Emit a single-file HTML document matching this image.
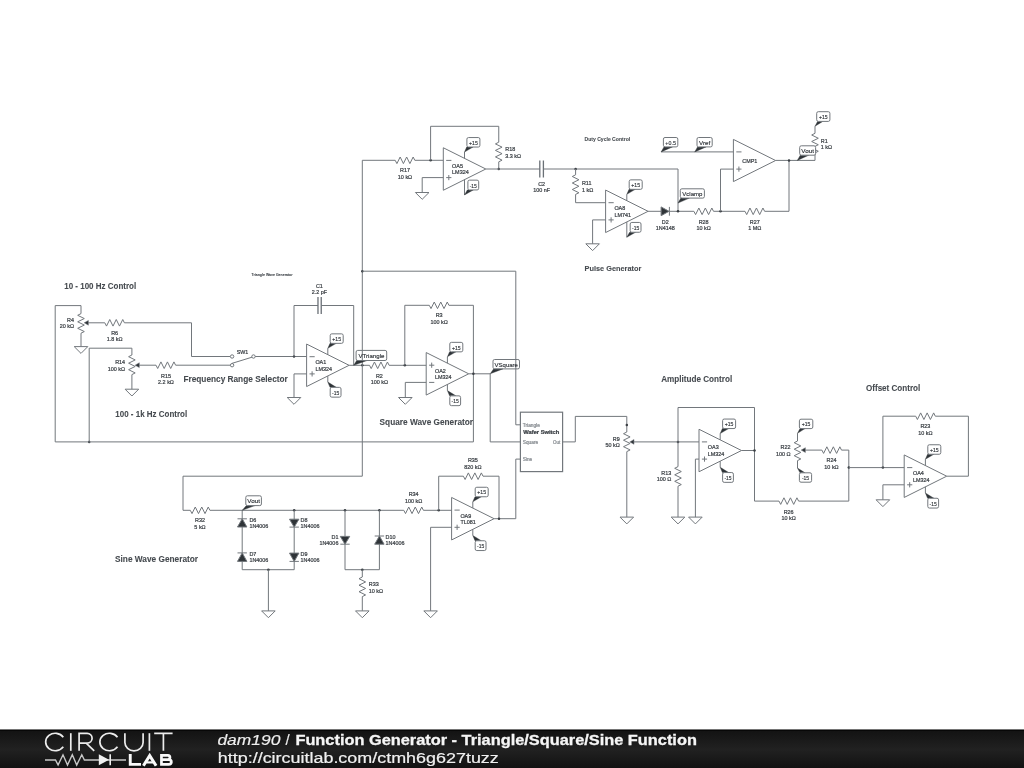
<!DOCTYPE html>
<html><head><meta charset="utf-8"><title>Function Generator - Triangle/Square/Sine Function</title>
<style>
html,body{margin:0;padding:0;background:#fff;width:1024px;height:768px;overflow:hidden}
svg{display:block;font-family:"Liberation Sans",sans-serif;will-change:transform}
</style></head><body>
<svg width="1024" height="768" viewBox="0 0 1024 768">
<rect x="0" y="0" width="1024" height="768" fill="#fff"/>
<g fill="none" stroke="#72777c" stroke-width="1.0" stroke-linejoin="miter">
<path d="M55.2,441.9 L55.2,305.6 L81,305.6 L81,313.6"/>
<path d="M81,313.6 L77.7,315.3 L84.3,318.55 L77.7,321.8 L84.3,325.05 L77.7,328.3 L84.3,331.55 L81,333.2"/>
<path d="M81,333.2 L81,346.6"/>
<path d="M74.2,346.6 L87.8,346.6 L81,353.4 Z"/>
<text transform="translate(74,321.5) scale(0.890,1)" font-size="6.1" text-anchor="end" font-weight="normal" fill="#3c4146" stroke="#3c4146" stroke-width="0.24">R4</text>
<text transform="translate(74,328) scale(0.890,1)" font-size="6.1" text-anchor="end" font-weight="normal" fill="#3c4146" stroke="#3c4146" stroke-width="0.24">20 kΩ</text>
<path d="M84.2,322.8 L88.4,320.4 L88.4,325.2 Z" fill="#2f3438" stroke-width="0.5"/>
<path d="M88,322.8 L104.8,322.8"/>
<path d="M104.8,322.8 L106.5,326.1 L109.75,319.5 L113,326.1 L116.25,319.5 L119.5,326.1 L122.75,319.5 L124.4,322.8"/>
<text transform="translate(114.6,334.9) scale(0.890,1)" font-size="6.1" text-anchor="middle" font-weight="normal" fill="#3c4146" stroke="#3c4146" stroke-width="0.24">R6</text>
<text transform="translate(114.6,341.2) scale(0.890,1)" font-size="6.1" text-anchor="middle" font-weight="normal" fill="#3c4146" stroke="#3c4146" stroke-width="0.24">1.8 kΩ</text>
<path d="M124.4,322.8 L191.5,322.8 L191.5,356.5 L230.2,356.5"/>
<path d="M89.2,441.9 L89.2,348.2 L131.9,348.2 L131.9,355"/>
<path d="M131.9,355 L128.6,356.7 L135.2,359.95 L128.6,363.2 L135.2,366.45 L128.6,369.7 L135.2,372.95 L131.9,374.6"/>
<path d="M131.9,374.6 L131.9,389.2"/>
<path d="M125.1,389.2 L138.7,389.2 L131.9,396 Z"/>
<text transform="translate(125.1,364.4) scale(0.890,1)" font-size="6.1" text-anchor="end" font-weight="normal" fill="#3c4146" stroke="#3c4146" stroke-width="0.24">R14</text>
<text transform="translate(125.1,370.7) scale(0.890,1)" font-size="6.1" text-anchor="end" font-weight="normal" fill="#3c4146" stroke="#3c4146" stroke-width="0.24">100 kΩ</text>
<path d="M135.1,365.2 L139.3,362.8 L139.3,367.6 Z" fill="#2f3438" stroke-width="0.5"/>
<path d="M139,365.2 L156,365.2"/>
<path d="M156,365.2 L157.7,368.5 L160.95,361.9 L164.2,368.5 L167.45,361.9 L170.7,368.5 L173.95,361.9 L175.6,365.2"/>
<text transform="translate(166,377.5) scale(0.890,1)" font-size="6.1" text-anchor="middle" font-weight="normal" fill="#3c4146" stroke="#3c4146" stroke-width="0.24">R15</text>
<text transform="translate(166,383.7) scale(0.890,1)" font-size="6.1" text-anchor="middle" font-weight="normal" fill="#3c4146" stroke="#3c4146" stroke-width="0.24">2.2 kΩ</text>
<path d="M175.6,365.2 L230.2,365.2"/>
<circle cx="89.2" cy="441.9" r="1.25" fill="#3a3f44" stroke="none"/>
<circle cx="232.1" cy="356.5" r="1.7" fill="#fff"/>
<circle cx="232.1" cy="365.2" r="1.7" fill="#fff"/>
<circle cx="253.5" cy="356.5" r="1.7" fill="#fff"/>
<path d="M231.9,363.4 L252,357.2"/>
<text transform="translate(242.4,353.6) scale(0.890,1)" font-size="6" text-anchor="middle" font-weight="normal" fill="#3c4146" stroke="#3c4146" stroke-width="0.24">SW1</text>
<path d="M255.2,356.5 L306.6,356.5"/>
<circle cx="294" cy="356.5" r="1.25" fill="#3a3f44" stroke="none"/>
<path d="M294,356.5 L294,305.5 L318,305.5"/>
<path d="M317.98,296.9 V314.1 M321.23,296.9 V314.1" stroke-width="1.3" stroke="#6a7076"/>
<path d="M321.25,305.5 L353.7,305.5 L353.7,365.3"/>
<text transform="translate(319.4,287.6) scale(0.890,1)" font-size="6.1" text-anchor="middle" font-weight="normal" fill="#3c4146" stroke="#3c4146" stroke-width="0.24">C1</text>
<text transform="translate(319.4,293.8) scale(0.890,1)" font-size="6.1" text-anchor="middle" font-weight="normal" fill="#3c4146" stroke="#3c4146" stroke-width="0.24">2.2 pF</text>
<path d="M306.6,344.05 L349.1,365.3 L306.6,386.55 Z"/>
<path d="M309.5,356.7 H314.7" stroke-width="1"/>
<path d="M309.5,373.9 H314.7 M312.1,371.3 V376.5" stroke-width="1"/>
<text transform="translate(315.4,364.1) scale(0.890,1)" font-size="6.1" text-anchor="start" font-weight="normal" fill="#3c4146" stroke="#3c4146" stroke-width="0.24">OA1</text>
<text transform="translate(315.4,370.6) scale(0.890,1)" font-size="6.1" text-anchor="start" font-weight="normal" fill="#3c4146" stroke="#3c4146" stroke-width="0.24">LM324</text>
<path d="M327.8,354.65 L327.8,348.35"/>
<path d="M327.8,348.35 L330,343.35 L336.3,343.35 Z" fill="#2f3438" stroke="#2f3438" stroke-width="0.4"/>
<rect x="330.2" y="333.85" width="13" height="9.5" rx="1.6" fill="#fff"/>
<text transform="translate(336.7,341.05) scale(0.839,1)" font-size="6.1" text-anchor="middle" font-weight="normal" fill="#2e3338" stroke="#2e3338" stroke-width="0.15">+15</text>
<path d="M327.8,375.95 L327.8,382.05"/>
<path d="M327.8,382.05 L330,387.35 L336.3,387.35 Z" fill="#2f3438" stroke="#2f3438" stroke-width="0.4"/>
<rect x="330.2" y="387.35" width="10.8" height="9.8" rx="1.6" fill="#fff"/>
<text transform="translate(335.6,394.85) scale(0.814,1)" font-size="6.1" text-anchor="middle" font-weight="normal" fill="#2e3338" stroke="#2e3338" stroke-width="0.15">-15</text>
<path d="M306.6,373.9 L294,373.9 L294,397.5"/>
<path d="M287.2,397.5 L300.8,397.5 L294,404.3 Z"/>
<path d="M349.1,365.3 L369.5,365.3"/>
<path d="M369.5,365.3 L371.2,368.6 L374.45,362 L377.7,368.6 L380.95,362 L384.2,368.6 L387.45,362 L389.1,365.3"/>
<text transform="translate(379.4,377.6) scale(0.890,1)" font-size="6.1" text-anchor="middle" font-weight="normal" fill="#3c4146" stroke="#3c4146" stroke-width="0.24">R2</text>
<text transform="translate(379.4,383.8) scale(0.890,1)" font-size="6.1" text-anchor="middle" font-weight="normal" fill="#3c4146" stroke="#3c4146" stroke-width="0.24">100 kΩ</text>
<path d="M389.1,365.3 L426.2,365.3"/>
<circle cx="362.3" cy="365.3" r="1.25" fill="#3a3f44" stroke="none"/>
<circle cx="404.8" cy="365.3" r="1.25" fill="#3a3f44" stroke="none"/>
<path d="M404.8,365.3 L404.8,305.3 L429.3,305.3"/>
<path d="M429.3,305.3 L431,308.6 L434.25,302 L437.5,308.6 L440.75,302 L444,308.6 L447.25,302 L448.9,305.3"/>
<text transform="translate(439.1,317.4) scale(0.890,1)" font-size="6.1" text-anchor="middle" font-weight="normal" fill="#3c4146" stroke="#3c4146" stroke-width="0.24">R3</text>
<text transform="translate(439.1,323.7) scale(0.890,1)" font-size="6.1" text-anchor="middle" font-weight="normal" fill="#3c4146" stroke="#3c4146" stroke-width="0.24">100 kΩ</text>
<path d="M448.9,305.3 L473.4,305.3 L473.4,441.9 L55.2,441.9"/>
<path d="M426.2,352.55 L468.7,373.8 L426.2,395.05 Z"/>
<path d="M429.1,382.4 H434.3" stroke-width="1"/>
<path d="M429.1,365.2 H434.3 M431.7,362.6 V367.8" stroke-width="1"/>
<text transform="translate(435,372.6) scale(0.890,1)" font-size="6.1" text-anchor="start" font-weight="normal" fill="#3c4146" stroke="#3c4146" stroke-width="0.24">OA2</text>
<text transform="translate(435,379.1) scale(0.890,1)" font-size="6.1" text-anchor="start" font-weight="normal" fill="#3c4146" stroke="#3c4146" stroke-width="0.24">LM324</text>
<path d="M447.4,363.15 L447.4,356.85"/>
<path d="M447.4,356.85 L449.6,351.85 L455.9,351.85 Z" fill="#2f3438" stroke="#2f3438" stroke-width="0.4"/>
<rect x="449.8" y="342.35" width="13" height="9.5" rx="1.6" fill="#fff"/>
<text transform="translate(456.3,349.55) scale(0.839,1)" font-size="6.1" text-anchor="middle" font-weight="normal" fill="#2e3338" stroke="#2e3338" stroke-width="0.15">+15</text>
<path d="M447.4,384.45 L447.4,390.55"/>
<path d="M447.4,390.55 L449.6,395.85 L455.9,395.85 Z" fill="#2f3438" stroke="#2f3438" stroke-width="0.4"/>
<rect x="449.8" y="395.85" width="10.8" height="9.8" rx="1.6" fill="#fff"/>
<text transform="translate(455.2,403.35) scale(0.814,1)" font-size="6.1" text-anchor="middle" font-weight="normal" fill="#2e3338" stroke="#2e3338" stroke-width="0.15">-15</text>
<path d="M426.2,382.4 L405.3,382.4 L405.3,397.5"/>
<path d="M398.5,397.5 L412.1,397.5 L405.3,404.3 Z"/>
<path d="M468.7,373.8 L490.2,373.8 L490.2,441.9 L520.4,441.9"/>
<circle cx="473.4" cy="373.8" r="1.25" fill="#3a3f44" stroke="none"/>
<path d="M362.3,476.2 L362.3,160.3 L395.2,160.3"/>
<path d="M395.2,160.3 L396.9,163.6 L400.15,157 L403.4,163.6 L406.65,157 L409.9,163.6 L413.15,157 L414.8,160.3"/>
<text transform="translate(405,172.1) scale(0.890,1)" font-size="6.1" text-anchor="middle" font-weight="normal" fill="#3c4146" stroke="#3c4146" stroke-width="0.24">R17</text>
<text transform="translate(405,178.8) scale(0.890,1)" font-size="6.1" text-anchor="middle" font-weight="normal" fill="#3c4146" stroke="#3c4146" stroke-width="0.24">10 kΩ</text>
<path d="M414.8,160.3 L443.3,160.3"/>
<circle cx="362.3" cy="271.2" r="1.25" fill="#3a3f44" stroke="none"/>
<path d="M362.3,271.2 L515.8,271.2 L515.8,424.8 L520.4,424.8"/>
<circle cx="430.6" cy="160.3" r="1.25" fill="#3a3f44" stroke="none"/>
<path d="M430.6,160.3 L430.6,126.3 L498.75,126.3 L498.75,142.2"/>
<path d="M498.75,142.2 L495.45,143.9 L502.05,147.15 L495.45,150.4 L502.05,153.65 L495.45,156.9 L502.05,160.15 L498.75,161.8"/>
<path d="M498.75,161.8 L498.75,169"/>
<circle cx="498.75" cy="169" r="1.25" fill="#3a3f44" stroke="none"/>
<text transform="translate(505.3,150.7) scale(0.890,1)" font-size="6.1" text-anchor="start" font-weight="normal" fill="#3c4146" stroke="#3c4146" stroke-width="0.24">R18</text>
<text transform="translate(505.3,157.5) scale(0.890,1)" font-size="6.1" text-anchor="start" font-weight="normal" fill="#3c4146" stroke="#3c4146" stroke-width="0.24">3.3 kΩ</text>
<path d="M443.3,147.75 L485.8,169 L443.3,190.25 Z"/>
<path d="M446.2,160.4 H451.4" stroke-width="1"/>
<path d="M446.2,177.6 H451.4 M448.8,175 V180.2" stroke-width="1"/>
<text transform="translate(452.1,167.8) scale(0.890,1)" font-size="6.1" text-anchor="start" font-weight="normal" fill="#3c4146" stroke="#3c4146" stroke-width="0.24">OA5</text>
<text transform="translate(452.1,174.3) scale(0.890,1)" font-size="6.1" text-anchor="start" font-weight="normal" fill="#3c4146" stroke="#3c4146" stroke-width="0.24">LM324</text>
<path d="M464.5,158.35 L464.5,152.05"/>
<path d="M464.5,152.05 L466.7,147.05 L473,147.05 Z" fill="#2f3438" stroke="#2f3438" stroke-width="0.4"/>
<rect x="466.9" y="137.55" width="13" height="9.5" rx="1.6" fill="#fff"/>
<text transform="translate(473.4,144.75) scale(0.839,1)" font-size="6.1" text-anchor="middle" font-weight="normal" fill="#2e3338" stroke="#2e3338" stroke-width="0.15">+15</text>
<path d="M464.5,179.65 L464.5,194.95"/>
<path d="M464.5,194.95 L467.3,189.95 L473.3,189.95 Z" fill="#2f3438" stroke="#2f3438" stroke-width="0.4"/>
<rect x="467.9" y="180.15" width="10.8" height="9.8" rx="1.6" fill="#fff"/>
<text transform="translate(473.3,187.65) scale(0.814,1)" font-size="6.1" text-anchor="middle" font-weight="normal" fill="#2e3338" stroke="#2e3338" stroke-width="0.15">-15</text>
<path d="M443.3,177.6 L422.2,177.6 L422.2,192.5"/>
<path d="M415.4,192.5 L429,192.5 L422.2,199.3 Z"/>
<path d="M485.8,169 L539.9,169"/>
<path d="M539.8,160.6 V177.4 M543.4,160.6 V177.4" stroke-width="1.3" stroke="#6a7076"/>
<text transform="translate(541.6,185.7) scale(0.890,1)" font-size="6.1" text-anchor="middle" font-weight="normal" fill="#3c4146" stroke="#3c4146" stroke-width="0.24">C2</text>
<text transform="translate(541.6,192) scale(0.890,1)" font-size="6.1" text-anchor="middle" font-weight="normal" fill="#3c4146" stroke="#3c4146" stroke-width="0.24">100 nF</text>
<path d="M543.4,169 L678,169 L678,211.25"/>
<circle cx="575.6" cy="169" r="1.25" fill="#3a3f44" stroke="none"/>
<path d="M575.6,169 L575.6,174.8"/>
<path d="M575.6,174.8 L572.3,176.5 L578.9,179.75 L572.3,183 L578.9,186.25 L572.3,189.5 L578.9,192.75 L575.6,194.4"/>
<path d="M575.6,194.4 L575.6,202.7 L605.6,202.7"/>
<text transform="translate(581.9,185.3) scale(0.890,1)" font-size="6.1" text-anchor="start" font-weight="normal" fill="#3c4146" stroke="#3c4146" stroke-width="0.24">R11</text>
<text transform="translate(581.9,191.5) scale(0.890,1)" font-size="6.1" text-anchor="start" font-weight="normal" fill="#3c4146" stroke="#3c4146" stroke-width="0.24">1 kΩ</text>
<text transform="translate(584.5,140.6) scale(0.925,1)" font-size="5.5" text-anchor="start" font-weight="bold" fill="#464b50" stroke="#464b50" stroke-width="0.08">Duty Cycle Control</text>
<path d="M605.6,190.05 L648.1,211.3 L605.6,232.55 Z"/>
<path d="M608.5,202.7 H613.7" stroke-width="1"/>
<path d="M608.5,219.9 H613.7 M611.1,217.3 V222.5" stroke-width="1"/>
<text transform="translate(614.4,210.1) scale(0.890,1)" font-size="6.1" text-anchor="start" font-weight="normal" fill="#3c4146" stroke="#3c4146" stroke-width="0.24">OA8</text>
<text transform="translate(614.4,216.6) scale(0.890,1)" font-size="6.1" text-anchor="start" font-weight="normal" fill="#3c4146" stroke="#3c4146" stroke-width="0.24">LM741</text>
<path d="M626.8,200.65 L626.8,194.35"/>
<path d="M626.8,194.35 L629,189.35 L635.3,189.35 Z" fill="#2f3438" stroke="#2f3438" stroke-width="0.4"/>
<rect x="629.2" y="179.85" width="13" height="9.5" rx="1.6" fill="#fff"/>
<text transform="translate(635.7,187.05) scale(0.839,1)" font-size="6.1" text-anchor="middle" font-weight="normal" fill="#2e3338" stroke="#2e3338" stroke-width="0.15">+15</text>
<path d="M626.8,221.95 L626.8,237.25"/>
<path d="M626.8,237.25 L629.6,232.25 L635.6,232.25 Z" fill="#2f3438" stroke="#2f3438" stroke-width="0.4"/>
<rect x="630.2" y="222.45" width="10.8" height="9.8" rx="1.6" fill="#fff"/>
<text transform="translate(635.6,229.95) scale(0.814,1)" font-size="6.1" text-anchor="middle" font-weight="normal" fill="#2e3338" stroke="#2e3338" stroke-width="0.15">-15</text>
<path d="M605.6,219.9 L592.6,219.9 L592.6,243.8"/>
<path d="M585.8,243.8 L599.4,243.8 L592.6,250.6 Z"/>
<text transform="translate(584.6,270.7) scale(1.006,1)" font-size="7.3" text-anchor="start" font-weight="bold" fill="#464b50" stroke="#464b50" stroke-width="0.08">Pulse Generator</text>
<path d="M647.8,211.3 L661.1,211.3"/>
<path d="M661.1,206.9 L661.1,215.7 L669,211.3 Z" fill="#2f3438"/>
<path d="M669.4,206.9 V215.7"/>
<path d="M669.4,211.3 L693.9,211.3"/>
<text transform="translate(665.2,223.5) scale(0.890,1)" font-size="6.1" text-anchor="middle" font-weight="normal" fill="#3c4146" stroke="#3c4146" stroke-width="0.24">D2</text>
<text transform="translate(665.2,230.1) scale(0.890,1)" font-size="6.1" text-anchor="middle" font-weight="normal" fill="#3c4146" stroke="#3c4146" stroke-width="0.24">1N4148</text>
<circle cx="678" cy="211.3" r="1.25" fill="#3a3f44" stroke="none"/>
<path d="M693.9,211.3 L695.6,214.6 L698.85,208 L702.1,214.6 L705.35,208 L708.6,214.6 L711.85,208 L713.5,211.3"/>
<text transform="translate(703.6,223.5) scale(0.890,1)" font-size="6.1" text-anchor="middle" font-weight="normal" fill="#3c4146" stroke="#3c4146" stroke-width="0.24">R28</text>
<text transform="translate(703.6,230.1) scale(0.890,1)" font-size="6.1" text-anchor="middle" font-weight="normal" fill="#3c4146" stroke="#3c4146" stroke-width="0.24">10 kΩ</text>
<path d="M713.5,211.3 L745,211.3"/>
<circle cx="720.5" cy="211.3" r="1.25" fill="#3a3f44" stroke="none"/>
<path d="M720.5,211.3 L720.5,169.1 L733.4,169.1"/>
<path d="M745,211.3 L746.7,214.6 L749.95,208 L753.2,214.6 L756.45,208 L759.7,214.6 L762.95,208 L764.6,211.3"/>
<text transform="translate(754.8,223.5) scale(0.890,1)" font-size="6.1" text-anchor="middle" font-weight="normal" fill="#3c4146" stroke="#3c4146" stroke-width="0.24">R27</text>
<text transform="translate(754.8,230.1) scale(0.890,1)" font-size="6.1" text-anchor="middle" font-weight="normal" fill="#3c4146" stroke="#3c4146" stroke-width="0.24">1 MΩ</text>
<path d="M764.6,211.3 L789,211.3 L789,160.4"/>
<path d="M678,203.1 L680.9,198.1 L689.4,198.1 Z" fill="#2f3438" stroke="#2f3438" stroke-width="0.4"/>
<rect x="680.3" y="188.8" width="24.1" height="9.3" rx="1.6" fill="#fff"/>
<text transform="translate(692.35,195.8) scale(0.990,1)" font-size="6.1" text-anchor="middle" font-weight="normal" fill="#2e3338" stroke="#2e3338" stroke-width="0.15">Vclamp</text>
<path d="M733.4,139.4 L775.6,160.5 L733.4,181.6 Z"/>
<path d="M736.3,151.9 H741.5" stroke-width="1"/>
<path d="M736.3,169.1 H741.5 M738.9,166.5 V171.7" stroke-width="1"/>
<text transform="translate(742.3,162.5) scale(0.890,1)" font-size="6.1" text-anchor="start" font-weight="normal" fill="#3c4146" stroke="#3c4146" stroke-width="0.24">CMP1</text>
<path d="M661.1,151.9 L733.4,151.9"/>
<path d="M661.1,151.9 L664,146.9 L672.5,146.9 Z" fill="#2f3438" stroke="#2f3438" stroke-width="0.4"/>
<rect x="663.4" y="137.5" width="14.4" height="9.4" rx="1.6" fill="#fff"/>
<text transform="translate(670.6,144.6) scale(0.874,1)" font-size="6.1" text-anchor="middle" font-weight="normal" fill="#2e3338" stroke="#2e3338" stroke-width="0.15">+0.5</text>
<path d="M694.7,151.9 L697.6,146.9 L706.1,146.9 Z" fill="#2f3438" stroke="#2f3438" stroke-width="0.4"/>
<rect x="697" y="137.5" width="15.2" height="9.4" rx="1.6" fill="#fff"/>
<text transform="translate(704.6,144.6) scale(1.029,1)" font-size="6.1" text-anchor="middle" font-weight="normal" fill="#2e3338" stroke="#2e3338" stroke-width="0.15">Vref</text>
<path d="M775.6,160.4 L815,160.4 L815,152.9"/>
<circle cx="789" cy="160.4" r="1.25" fill="#3a3f44" stroke="none"/>
<path d="M815,133.3 L811.7,135 L818.3,138.25 L811.7,141.5 L818.3,144.75 L811.7,148 L818.3,151.25 L815,152.9"/>
<path d="M815,133.3 L815,126.2"/>
<path d="M815,126.2 L817.6,121.4 L822.8,121.4 Z" fill="#2f3438" stroke="#2f3438" stroke-width="0.4"/>
<rect x="816.7" y="111.7" width="13.2" height="9.7" rx="1.6" fill="#fff"/>
<text transform="translate(823.3,119.1) scale(0.867,1)" font-size="5.9" text-anchor="middle" font-weight="normal" fill="#2e3338" stroke="#2e3338" stroke-width="0.15">+15</text>
<text transform="translate(820.8,142.5) scale(0.890,1)" font-size="6.1" text-anchor="start" font-weight="normal" fill="#3c4146" stroke="#3c4146" stroke-width="0.24">R1</text>
<text transform="translate(820.8,148.8) scale(0.890,1)" font-size="6.1" text-anchor="start" font-weight="normal" fill="#3c4146" stroke="#3c4146" stroke-width="0.24">1 kΩ</text>
<path d="M797.3,160.4 L800.3,155.2 L808.8,155.2 Z" fill="#2f3438" stroke="#2f3438" stroke-width="0.4"/>
<rect x="799.7" y="145.8" width="15.9" height="9.4" rx="1.6" fill="#fff"/>
<text transform="translate(807.65,152.9) scale(1.045,1)" font-size="6.1" text-anchor="middle" font-weight="normal" fill="#2e3338" stroke="#2e3338" stroke-width="0.15">Vout</text>
<rect x="520.4" y="412.2" width="42.2" height="59.4" fill="#fff" stroke-width="1.2"/>
<text transform="translate(522.8,426.6) scale(1.016,1)" font-size="4.7" text-anchor="start" font-weight="normal" fill="#8a8f94" stroke="#8a8f94" stroke-width="0.24">Triangle</text>
<text transform="translate(523.3,433.8) scale(1.131,1)" font-size="5.1" text-anchor="start" font-weight="bold" fill="#3a3f44" stroke="#3a3f44" stroke-width="0.24">Wafer Switch</text>
<text transform="translate(522.8,443.9) scale(1.011,1)" font-size="4.7" text-anchor="start" font-weight="normal" fill="#8a8f94" stroke="#8a8f94" stroke-width="0.24">Square</text>
<text transform="translate(560.3,443.9) scale(0.950,1)" font-size="4.7" text-anchor="end" font-weight="normal" fill="#8a8f94" stroke="#8a8f94" stroke-width="0.24">Out</text>
<text transform="translate(522.8,460.9) scale(1.000,1)" font-size="4.7" text-anchor="start" font-weight="normal" fill="#8a8f94" stroke="#8a8f94" stroke-width="0.24">Sine</text>
<text transform="translate(64.2,288.75) scale(0.947,1)" font-size="8.45" text-anchor="start" font-weight="bold" fill="#464b50" stroke="#464b50" stroke-width="0.08">10 - 100 Hz Control</text>
<text transform="translate(115.3,416.5) scale(0.945,1)" font-size="8.45" text-anchor="start" font-weight="bold" fill="#464b50" stroke="#464b50" stroke-width="0.08">100 - 1k Hz Control</text>
<text transform="translate(183.4,382.4) scale(0.980,1)" font-size="8.45" text-anchor="start" font-weight="bold" fill="#464b50" stroke="#464b50" stroke-width="0.08">Frequency Range Selector</text>
<text transform="translate(379.6,424.9) scale(0.979,1)" font-size="8.45" text-anchor="start" font-weight="bold" fill="#464b50" stroke="#464b50" stroke-width="0.08">Square Wave Generator</text>
<text transform="translate(115,561.7) scale(0.983,1)" font-size="8.45" text-anchor="start" font-weight="bold" fill="#464b50" stroke="#464b50" stroke-width="0.08">Sine Wave Generator</text>
<text transform="translate(661.25,382.3) scale(0.964,1)" font-size="8.45" text-anchor="start" font-weight="bold" fill="#464b50" stroke="#464b50" stroke-width="0.08">Amplitude Control</text>
<text transform="translate(866,391.1) scale(0.956,1)" font-size="8.45" text-anchor="start" font-weight="bold" fill="#464b50" stroke="#464b50" stroke-width="0.08">Offset Control</text>
<text transform="translate(251.5,275.8) scale(0.879,1)" font-size="4" text-anchor="start" font-weight="bold" fill="#464b50" stroke="#464b50" stroke-width="0.08">Triangle Wave Generator</text>
<path d="M353.7,365.3 L356.7,360.5 L367.2,360.5 Z" fill="#2f3438" stroke="#2f3438" stroke-width="0.4"/>
<rect x="356.1" y="350.4" width="30.6" height="10.1" rx="1.6" fill="none"/>
<text transform="translate(371.4,358.2) scale(1.005,1)" font-size="6.1" text-anchor="middle" font-weight="normal" fill="#2e3338" stroke="#2e3338" stroke-width="0.15">VTriangle</text>
<path d="M490.2,373.8 L493.6,368.9 L502.9,368.9 Z" fill="#2f3438" stroke="#2f3438" stroke-width="0.4"/>
<rect x="493" y="359.5" width="26.5" height="9.4" rx="1.6" fill="none"/>
<text transform="translate(506.25,366.6) scale(0.990,1)" font-size="6.1" text-anchor="middle" font-weight="normal" fill="#2e3338" stroke="#2e3338" stroke-width="0.15">VSquare</text>
<path d="M562.6,441.9 L575.3,441.9 L575.3,416.4 L626.8,416.4 L626.8,432"/>
<circle cx="626.8" cy="424.9" r="1.25" fill="#3a3f44" stroke="none"/>
<path d="M626.8,432 L623.5,433.7 L630.1,436.95 L623.5,440.2 L630.1,443.45 L623.5,446.7 L630.1,449.95 L626.8,451.6"/>
<path d="M626.8,451.6 L626.8,517.1"/>
<path d="M620,517.1 L633.6,517.1 L626.8,523.9 Z"/>
<text transform="translate(619.7,440.6) scale(0.890,1)" font-size="6.1" text-anchor="end" font-weight="normal" fill="#3c4146" stroke="#3c4146" stroke-width="0.24">R9</text>
<text transform="translate(619.7,447.3) scale(0.890,1)" font-size="6.1" text-anchor="end" font-weight="normal" fill="#3c4146" stroke="#3c4146" stroke-width="0.24">50 kΩ</text>
<path d="M629.8,441.9 L634,439.5 L634,444.3 Z" fill="#2f3438" stroke-width="0.5"/>
<path d="M633.5,441.9 L699,441.9"/>
<circle cx="678" cy="441.9" r="1.25" fill="#3a3f44" stroke="none"/>
<path d="M678,407.5 L678,466.6"/>
<path d="M678,466.6 L674.7,468.3 L681.3,471.55 L674.7,474.8 L681.3,478.05 L674.7,481.3 L681.3,484.55 L678,486.2"/>
<path d="M678,486.2 L678,517.1"/>
<path d="M671.2,517.1 L684.8,517.1 L678,523.9 Z"/>
<text transform="translate(671.3,475) scale(0.890,1)" font-size="6.1" text-anchor="end" font-weight="normal" fill="#3c4146" stroke="#3c4146" stroke-width="0.24">R13</text>
<text transform="translate(671.3,481.3) scale(0.890,1)" font-size="6.1" text-anchor="end" font-weight="normal" fill="#3c4146" stroke="#3c4146" stroke-width="0.24">100 Ω</text>
<path d="M678,407.5 L754.5,407.5 L754.5,501.1 L779,501.1"/>
<path d="M779,501.1 L780.7,504.4 L783.95,497.8 L787.2,504.4 L790.45,497.8 L793.7,504.4 L796.95,497.8 L798.6,501.1"/>
<text transform="translate(788.6,513.8) scale(0.890,1)" font-size="6.1" text-anchor="middle" font-weight="normal" fill="#3c4146" stroke="#3c4146" stroke-width="0.24">R26</text>
<text transform="translate(788.6,520.4) scale(0.890,1)" font-size="6.1" text-anchor="middle" font-weight="normal" fill="#3c4146" stroke="#3c4146" stroke-width="0.24">10 kΩ</text>
<path d="M798.6,501.1 L848.8,501.1 L848.8,450.1 L841.5,450.1"/>
<path d="M699,429.25 L741.5,450.5 L699,471.75 Z"/>
<path d="M701.9,441.9 H707.1" stroke-width="1"/>
<path d="M701.9,459.1 H707.1 M704.5,456.5 V461.7" stroke-width="1"/>
<text transform="translate(707.8,449.3) scale(0.890,1)" font-size="6.1" text-anchor="start" font-weight="normal" fill="#3c4146" stroke="#3c4146" stroke-width="0.24">OA3</text>
<text transform="translate(707.8,455.8) scale(0.890,1)" font-size="6.1" text-anchor="start" font-weight="normal" fill="#3c4146" stroke="#3c4146" stroke-width="0.24">LM324</text>
<path d="M720.2,439.85 L720.2,433.55"/>
<path d="M720.2,433.55 L722.4,428.55 L728.7,428.55 Z" fill="#2f3438" stroke="#2f3438" stroke-width="0.4"/>
<rect x="722.6" y="419.05" width="13" height="9.5" rx="1.6" fill="#fff"/>
<text transform="translate(729.1,426.25) scale(0.839,1)" font-size="6.1" text-anchor="middle" font-weight="normal" fill="#2e3338" stroke="#2e3338" stroke-width="0.15">+15</text>
<path d="M720.2,461.15 L720.2,467.25"/>
<path d="M720.2,467.25 L722.4,472.55 L728.7,472.55 Z" fill="#2f3438" stroke="#2f3438" stroke-width="0.4"/>
<rect x="722.6" y="472.55" width="10.8" height="9.8" rx="1.6" fill="#fff"/>
<text transform="translate(728,480.05) scale(0.814,1)" font-size="6.1" text-anchor="middle" font-weight="normal" fill="#2e3338" stroke="#2e3338" stroke-width="0.15">-15</text>
<path d="M699,459.1 L695.4,459.1 L695.4,517.1"/>
<path d="M688.6,517.1 L702.2,517.1 L695.4,523.9 Z"/>
<path d="M741.5,450.5 L754.5,450.5"/>
<circle cx="754.5" cy="450.5" r="1.25" fill="#3a3f44" stroke="none"/>
<path d="M797.5,433.3 L797.5,441"/>
<path d="M797.5,433.3 L800,428.6 L805,428.6 Z" fill="#2f3438" stroke="#2f3438" stroke-width="0.4"/>
<rect x="799.4" y="419.2" width="13.4" height="9.4" rx="1.6" fill="#fff"/>
<text transform="translate(806.1,426.3) scale(0.867,1)" font-size="5.9" text-anchor="middle" font-weight="normal" fill="#2e3338" stroke="#2e3338" stroke-width="0.15">+15</text>
<path d="M797.5,441 L794.2,442.7 L800.8,445.95 L794.2,449.2 L800.8,452.45 L794.2,455.7 L800.8,458.95 L797.5,460.6"/>
<path d="M797.5,460.6 L797.5,468.1"/>
<path d="M797.5,468.1 L800,472.8 L805,472.8 Z" fill="#2f3438" stroke="#2f3438" stroke-width="0.4"/>
<rect x="799.4" y="472.8" width="12.2" height="9.4" rx="1.6" fill="#fff"/>
<text transform="translate(805.5,479.9) scale(0.842,1)" font-size="5.9" text-anchor="middle" font-weight="normal" fill="#2e3338" stroke="#2e3338" stroke-width="0.15">-15</text>
<text transform="translate(790.5,448.9) scale(0.890,1)" font-size="6.1" text-anchor="end" font-weight="normal" fill="#3c4146" stroke="#3c4146" stroke-width="0.24">R22</text>
<text transform="translate(790.5,455.6) scale(0.890,1)" font-size="6.1" text-anchor="end" font-weight="normal" fill="#3c4146" stroke="#3c4146" stroke-width="0.24">100 Ω</text>
<path d="M801.2,450.1 L805.4,447.7 L805.4,452.5 Z" fill="#2f3438" stroke-width="0.5"/>
<path d="M805,450.1 L821.9,450.1"/>
<path d="M821.9,450.1 L823.6,453.4 L826.85,446.8 L830.1,453.4 L833.35,446.8 L836.6,453.4 L839.85,446.8 L841.5,450.1"/>
<text transform="translate(831.5,462.1) scale(0.890,1)" font-size="6.1" text-anchor="middle" font-weight="normal" fill="#3c4146" stroke="#3c4146" stroke-width="0.24">R24</text>
<text transform="translate(831.5,468.8) scale(0.890,1)" font-size="6.1" text-anchor="middle" font-weight="normal" fill="#3c4146" stroke="#3c4146" stroke-width="0.24">10 kΩ</text>
<circle cx="848.8" cy="467.6" r="1.25" fill="#3a3f44" stroke="none"/>
<path d="M848.8,467.6 L904.2,467.6"/>
<circle cx="882.9" cy="467.6" r="1.25" fill="#3a3f44" stroke="none"/>
<path d="M882.9,467.6 L882.9,416.2 L915.7,416.2"/>
<path d="M915.7,416.2 L917.4,419.5 L920.65,412.9 L923.9,419.5 L927.15,412.9 L930.4,419.5 L933.65,412.9 L935.3,416.2"/>
<text transform="translate(925.4,428.3) scale(0.890,1)" font-size="6.1" text-anchor="middle" font-weight="normal" fill="#3c4146" stroke="#3c4146" stroke-width="0.24">R23</text>
<text transform="translate(925.4,434.9) scale(0.890,1)" font-size="6.1" text-anchor="middle" font-weight="normal" fill="#3c4146" stroke="#3c4146" stroke-width="0.24">10 kΩ</text>
<path d="M935.3,416.2 L968.4,416.2 L968.4,476.2 L946.7,476.2"/>
<path d="M904.2,454.95 L946.7,476.2 L904.2,497.45 Z"/>
<path d="M907.1,467.6 H912.3" stroke-width="1"/>
<path d="M907.1,484.8 H912.3 M909.7,482.2 V487.4" stroke-width="1"/>
<text transform="translate(913,475) scale(0.890,1)" font-size="6.1" text-anchor="start" font-weight="normal" fill="#3c4146" stroke="#3c4146" stroke-width="0.24">OA4</text>
<text transform="translate(913,481.5) scale(0.890,1)" font-size="6.1" text-anchor="start" font-weight="normal" fill="#3c4146" stroke="#3c4146" stroke-width="0.24">LM324</text>
<path d="M925.4,465.55 L925.4,459.25"/>
<path d="M925.4,459.25 L927.6,454.25 L933.9,454.25 Z" fill="#2f3438" stroke="#2f3438" stroke-width="0.4"/>
<rect x="927.8" y="444.75" width="13" height="9.5" rx="1.6" fill="#fff"/>
<text transform="translate(934.3,451.95) scale(0.839,1)" font-size="6.1" text-anchor="middle" font-weight="normal" fill="#2e3338" stroke="#2e3338" stroke-width="0.15">+15</text>
<path d="M925.4,486.85 L925.4,492.95"/>
<path d="M925.4,492.95 L927.6,498.25 L933.9,498.25 Z" fill="#2f3438" stroke="#2f3438" stroke-width="0.4"/>
<rect x="927.8" y="498.25" width="10.8" height="9.8" rx="1.6" fill="#fff"/>
<text transform="translate(933.2,505.75) scale(0.814,1)" font-size="6.1" text-anchor="middle" font-weight="normal" fill="#2e3338" stroke="#2e3338" stroke-width="0.15">-15</text>
<path d="M904.2,484.8 L882.9,484.8 L882.9,499.8"/>
<path d="M876.1,499.8 L889.7,499.8 L882.9,506.6 Z"/>
<path d="M183,476.2 L362.3,476.2"/>
<path d="M183,476.2 L183,510.3 L190.3,510.3"/>
<path d="M190.3,510.3 L192,513.6 L195.25,507 L198.5,513.6 L201.75,507 L205,513.6 L208.25,507 L209.9,510.3"/>
<text transform="translate(200,522.4) scale(0.890,1)" font-size="6.1" text-anchor="middle" font-weight="normal" fill="#3c4146" stroke="#3c4146" stroke-width="0.24">R32</text>
<text transform="translate(200,528.7) scale(0.890,1)" font-size="6.1" text-anchor="middle" font-weight="normal" fill="#3c4146" stroke="#3c4146" stroke-width="0.24">5 kΩ</text>
<path d="M209.9,510.3 L403.8,510.3"/>
<path d="M403.8,510.3 L405.5,513.6 L408.75,507 L412,513.6 L415.25,507 L418.5,513.6 L421.75,507 L423.4,510.3"/>
<text transform="translate(413.6,496.3) scale(0.890,1)" font-size="6.1" text-anchor="middle" font-weight="normal" fill="#3c4146" stroke="#3c4146" stroke-width="0.24">R34</text>
<text transform="translate(413.6,502.8) scale(0.890,1)" font-size="6.1" text-anchor="middle" font-weight="normal" fill="#3c4146" stroke="#3c4146" stroke-width="0.24">100 kΩ</text>
<path d="M423.4,510.3 L451.6,510.3"/>
<circle cx="294.2" cy="510.3" r="1.25" fill="#3a3f44" stroke="none"/>
<circle cx="345" cy="510.3" r="1.25" fill="#3a3f44" stroke="none"/>
<circle cx="379.4" cy="510.3" r="1.25" fill="#3a3f44" stroke="none"/>
<circle cx="438.7" cy="510.3" r="1.25" fill="#3a3f44" stroke="none"/>
<path d="M242.2,510.3 L242.2,569.7 L294.2,569.7 L294.2,510.3"/>
<circle cx="268.4" cy="569.7" r="1.25" fill="#3a3f44" stroke="none"/>
<path d="M268.4,569.7 L268.4,610.9"/>
<path d="M261.6,610.9 L275.2,610.9 L268.4,617.7 Z"/>
<path d="M237.5,527 L246.9,527 L242.2,518.8 Z" fill="#2f3438"/>
<path d="M237.5,518.8 H246.9"/>
<path d="M237.5,561.4 L246.9,561.4 L242.2,552.9 Z" fill="#2f3438"/>
<path d="M237.5,552.9 H246.9"/>
<path d="M289.5,519.2 L298.9,519.2 L294.2,527.1 Z" fill="#2f3438"/>
<path d="M289.5,527.1 H298.9"/>
<path d="M289.5,553.1 L298.9,553.1 L294.2,561.4 Z" fill="#2f3438"/>
<path d="M289.5,561.4 H298.9"/>
<text transform="translate(249.4,522) scale(0.890,1)" font-size="6.1" text-anchor="start" font-weight="normal" fill="#3c4146" stroke="#3c4146" stroke-width="0.24">D6</text>
<text transform="translate(249.4,528.2) scale(0.890,1)" font-size="6.1" text-anchor="start" font-weight="normal" fill="#3c4146" stroke="#3c4146" stroke-width="0.24">1N4006</text>
<text transform="translate(249.4,556.1) scale(0.890,1)" font-size="6.1" text-anchor="start" font-weight="normal" fill="#3c4146" stroke="#3c4146" stroke-width="0.24">D7</text>
<text transform="translate(249.4,562.3) scale(0.890,1)" font-size="6.1" text-anchor="start" font-weight="normal" fill="#3c4146" stroke="#3c4146" stroke-width="0.24">1N4006</text>
<text transform="translate(300.5,522) scale(0.890,1)" font-size="6.1" text-anchor="start" font-weight="normal" fill="#3c4146" stroke="#3c4146" stroke-width="0.24">D8</text>
<text transform="translate(300.5,528.2) scale(0.890,1)" font-size="6.1" text-anchor="start" font-weight="normal" fill="#3c4146" stroke="#3c4146" stroke-width="0.24">1N4006</text>
<text transform="translate(300.5,556.1) scale(0.890,1)" font-size="6.1" text-anchor="start" font-weight="normal" fill="#3c4146" stroke="#3c4146" stroke-width="0.24">D9</text>
<text transform="translate(300.5,562.3) scale(0.890,1)" font-size="6.1" text-anchor="start" font-weight="normal" fill="#3c4146" stroke="#3c4146" stroke-width="0.24">1N4006</text>
<path d="M345,510.3 L345,569.7 L379.4,569.7 L379.4,510.3"/>
<path d="M340.3,536.4 L349.7,536.4 L345,544.2 Z" fill="#2f3438"/>
<path d="M340.3,544.2 H349.7"/>
<path d="M374.7,544.2 L384.1,544.2 L379.4,536 Z" fill="#2f3438"/>
<path d="M374.7,536 H384.1"/>
<text transform="translate(338.4,539.1) scale(0.890,1)" font-size="6.1" text-anchor="end" font-weight="normal" fill="#3c4146" stroke="#3c4146" stroke-width="0.24">D1</text>
<text transform="translate(338.4,545.4) scale(0.890,1)" font-size="6.1" text-anchor="end" font-weight="normal" fill="#3c4146" stroke="#3c4146" stroke-width="0.24">1N4006</text>
<text transform="translate(385.6,539.1) scale(0.890,1)" font-size="6.1" text-anchor="start" font-weight="normal" fill="#3c4146" stroke="#3c4146" stroke-width="0.24">D10</text>
<text transform="translate(385.6,545.4) scale(0.890,1)" font-size="6.1" text-anchor="start" font-weight="normal" fill="#3c4146" stroke="#3c4146" stroke-width="0.24">1N4006</text>
<circle cx="362.3" cy="569.7" r="1.25" fill="#3a3f44" stroke="none"/>
<path d="M362.3,569.7 L362.3,577"/>
<path d="M362.3,577 L359,578.7 L365.6,581.95 L359,585.2 L365.6,588.45 L359,591.7 L365.6,594.95 L362.3,596.6"/>
<path d="M362.3,596.6 L362.3,610.9"/>
<path d="M355.5,610.9 L369.1,610.9 L362.3,617.7 Z"/>
<text transform="translate(368.8,586.3) scale(0.890,1)" font-size="6.1" text-anchor="start" font-weight="normal" fill="#3c4146" stroke="#3c4146" stroke-width="0.24">R33</text>
<text transform="translate(368.8,592.9) scale(0.890,1)" font-size="6.1" text-anchor="start" font-weight="normal" fill="#3c4146" stroke="#3c4146" stroke-width="0.24">10 kΩ</text>
<path d="M242.2,510.3 L246.4,505.6 L254.9,505.6 Z" fill="#2f3438" stroke="#2f3438" stroke-width="0.4"/>
<rect x="245.8" y="495.8" width="15.6" height="9.8" rx="1.6" fill="#fff"/>
<text transform="translate(253.6,503.3) scale(1.045,1)" font-size="6.1" text-anchor="middle" font-weight="normal" fill="#2e3338" stroke="#2e3338" stroke-width="0.15">Vout</text>
<path d="M438.7,510.3 L438.7,476.2 L463.4,476.2"/>
<path d="M463.4,476.2 L465.1,479.5 L468.35,472.9 L471.6,479.5 L474.85,472.9 L478.1,479.5 L481.35,472.9 L483,476.2"/>
<text transform="translate(472.9,462.3) scale(0.890,1)" font-size="6.1" text-anchor="middle" font-weight="normal" fill="#3c4146" stroke="#3c4146" stroke-width="0.24">R35</text>
<text transform="translate(472.9,468.5) scale(0.890,1)" font-size="6.1" text-anchor="middle" font-weight="normal" fill="#3c4146" stroke="#3c4146" stroke-width="0.24">820 kΩ</text>
<path d="M483,476.2 L499,476.2 L499,518.7"/>
<path d="M451.6,497.45 L494.1,518.7 L451.6,539.95 Z"/>
<path d="M454.5,510.1 H459.7" stroke-width="1"/>
<path d="M454.5,527.3 H459.7 M457.1,524.7 V529.9" stroke-width="1"/>
<text transform="translate(460.4,517.5) scale(0.890,1)" font-size="6.1" text-anchor="start" font-weight="normal" fill="#3c4146" stroke="#3c4146" stroke-width="0.24">OA9</text>
<text transform="translate(460.4,524) scale(0.890,1)" font-size="6.1" text-anchor="start" font-weight="normal" fill="#3c4146" stroke="#3c4146" stroke-width="0.24">TL081</text>
<path d="M472.8,508.05 L472.8,501.75"/>
<path d="M472.8,501.75 L475,496.75 L481.3,496.75 Z" fill="#2f3438" stroke="#2f3438" stroke-width="0.4"/>
<rect x="475.2" y="487.25" width="13" height="9.5" rx="1.6" fill="#fff"/>
<text transform="translate(481.7,494.45) scale(0.839,1)" font-size="6.1" text-anchor="middle" font-weight="normal" fill="#2e3338" stroke="#2e3338" stroke-width="0.15">+15</text>
<path d="M472.8,529.35 L472.8,535.45"/>
<path d="M472.8,535.45 L475,540.75 L481.3,540.75 Z" fill="#2f3438" stroke="#2f3438" stroke-width="0.4"/>
<rect x="475.2" y="540.75" width="10.8" height="9.8" rx="1.6" fill="#fff"/>
<text transform="translate(480.6,548.25) scale(0.814,1)" font-size="6.1" text-anchor="middle" font-weight="normal" fill="#2e3338" stroke="#2e3338" stroke-width="0.15">-15</text>
<path d="M494.1,518.7 L515.8,518.7 L515.8,459.1 L520.4,459.1"/>
<circle cx="499" cy="518.7" r="1.25" fill="#3a3f44" stroke="none"/>
<path d="M451.6,527.3 L430.6,527.3 L430.6,610.9"/>
<path d="M423.8,610.9 L437.4,610.9 L430.6,617.7 Z"/>
</g>
<defs><linearGradient id="bg" x1="0" y1="0" x2="0" y2="1">
<stop offset="0" stop-color="#131313"/><stop offset="0.5" stop-color="#212121"/><stop offset="1" stop-color="#121212"/>
</linearGradient></defs>
<rect x="0" y="731" width="1024" height="37" fill="url(#bg)"/>
<rect x="0" y="729.45" width="1024" height="1.55" fill="#070707"/>

<g fill="none" stroke="#ececec" stroke-width="1.7">
 <path d="M63.3,737.2 A9.6 8.75 0 1 0 63.3,746.8"/>
 <path d="M70.8,733.2 V750.8"/>
 <path d="M79.1,750.8 V733.3 H87.2 A4.9 4.9 0 0 1 87.2,743.1 H79.1 M86.2,743.1 L94.2,750.8"/>
 <path d="M117.5,737.2 A9.6 8.75 0 1 0 117.5,746.8"/>
 <path d="M124.9,733.2 V742.6 A9.1 8.2 0 0 0 143.1,742.6 V733.2"/>
 <path d="M149.4,733.2 V750.8"/>
 <path d="M154.2,733.3 H172.6 M163.4,733.3 V750.8"/>
</g>
<path d="M45,760 H55.5 L58.1,765 L63,754.8 L67.5,765 L72.3,754.8 L76.7,765 L81.8,754.8 L84.4,760 H126" fill="none" stroke="#c8c8c8" stroke-width="1.4"/>
<path d="M98.8,754.3 L98.8,765.3 L109,759.8 Z" fill="#f0f0f0"/>
<path d="M110.2,754.3 V765.3" stroke="#f0f0f0" stroke-width="1.6"/>
<g fill="#fafafa">
 <path d="M128.8,754.1 H131.7 V763 H141 V765.8 H128.8 Z"/>
</g>
<g fill="none" stroke="#fafafa">
 <path d="M143.4,765.8 L149.7,755.6 L156.1,765.8" stroke-width="3" stroke-linejoin="miter"/>
 <path d="M146.3,762.4 H153.2" stroke-width="2.2"/>
 <path d="M161.45,754.1 V765.8 M161.45,755.45 H167.9 A2.2 2.13 0 0 1 167.9,759.7 H161.45 M161.45,759.7 H168.7 A2.6 2.3 0 0 1 168.7,764.4 H161.45" stroke-width="2.7"/>
</g>

<text x="217.4" y="744.5" font-size="15" font-style="italic" fill="#f0f0f0" stroke="#f0f0f0" stroke-width="0.15" textLength="63" lengthAdjust="spacingAndGlyphs">dam190</text>
<text x="285.6" y="744.5" font-size="15" fill="#f0f0f0" stroke="#f0f0f0" stroke-width="0.15">/</text>
<text x="295.4" y="744.5" font-size="15" font-weight="bold" fill="#f6f6f6" stroke="#f6f6f6" stroke-width="0.3" textLength="401.5" lengthAdjust="spacingAndGlyphs">Function Generator - Triangle/Square/Sine Function</text>
<text x="217.8" y="763.4" font-size="14.9" fill="#f0f0f0" stroke="#f0f0f0" stroke-width="0.2" textLength="281" lengthAdjust="spacingAndGlyphs">http://circuitlab.com/ctmh6g627tuzz</text>
</svg>
</body></html>
